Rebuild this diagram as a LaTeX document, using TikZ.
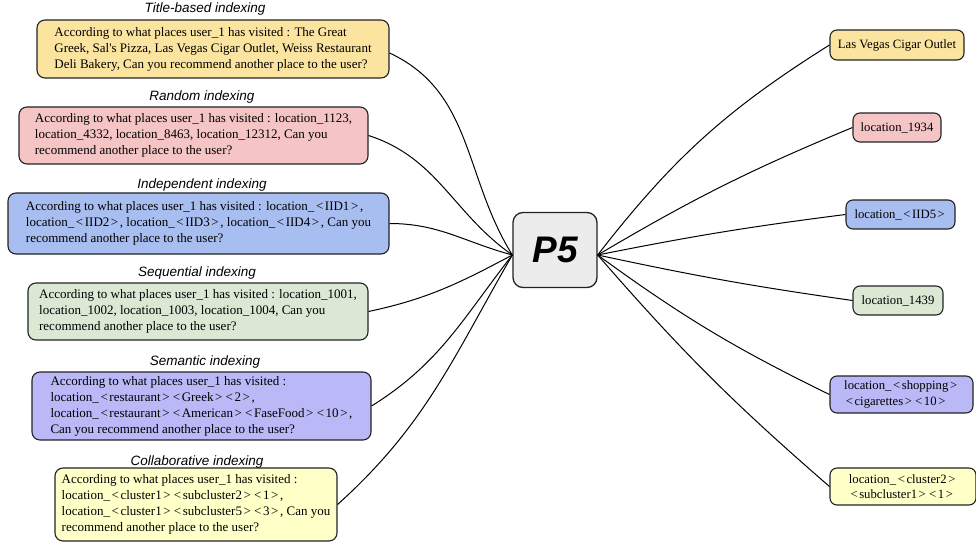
\documentclass[tikz,border=0pt]{standalone}
\usepackage{fontspec}
\setmainfont{Liberation Serif}
\setsansfont{Liberation Sans}
\usetikzlibrary{calc}
\newcommand{\lab}{\kern1.6pt<\kern1.6pt}
\newcommand{\rab}{\kern1.6pt>\kern1.6pt}
\definecolor{cyel}{RGB}{250,228,160}
\definecolor{cpink}{RGB}{245,196,196}
\definecolor{cblue}{RGB}{168,190,240}
\definecolor{cgreen}{RGB}{218,232,212}
\definecolor{cpurp}{RGB}{186,184,246}
\definecolor{clyel}{RGB}{255,255,200}
\definecolor{cgray}{RGB}{236,236,236}
\definecolor{edge}{RGB}{34,34,34}
\tikzset{
  qbox/.style={draw=edge, line width=1.1pt, rounded corners=8pt, align=left,
    font=\fontsize{13}{16}\selectfont, inner sep=0pt},
  abox/.style={draw=edge, line width=1.1pt, rounded corners=7pt, align=left,
    font=\fontsize{12.7}{15.5}\selectfont, inner sep=0pt},
  ttl/.style={font=\sffamily\itshape\fontsize{13.5}{15}\selectfont, inner sep=0pt},
  link/.style={draw=black, line width=1pt},
}
\begin{document}
\begin{tikzpicture}[x=1pt,y=1pt]
\useasboundingbox (0,0) rectangle (976,-545);
% P5
\node[draw=edge, line width=1.3pt, rounded corners=10pt, fill=cgray,
  minimum width=84pt, minimum height=75pt, inner sep=0pt,
  font=\sffamily\bfseries\itshape\fontsize{37}{40}\selectfont] (p5) at (555,-250) {P5};
\coordinate (pl) at ($(p5.west)+(0,-5)$);
\coordinate (pr) at ($(p5.east)+(0,-5)$);
% titles
\node[ttl] (t1) at (205,-9) {Title-based indexing};
\node[ttl] (t2) at (202,-97) {Random indexing};
\node[ttl] (t3) at (202,-185) {Independent indexing};
\node[ttl] (t4) at (197,-273) {Sequential indexing};
\node[ttl] (t5) at (205,-362) {Semantic indexing};
\node[ttl] (t6) at (197,-462) {Collaborative indexing};
% left boxes
\node[qbox, fill=cyel, minimum width=352pt, minimum height=58pt] (q1) at (213,-49)
 {According to what places user\_1 has visited : The Great\\Greek, Sal\textquotesingle s Pizza, Las Vegas Cigar Outlet, Weiss Restaurant\\Deli Bakery, Can you recommend another place to the user?};
\node[qbox, fill=cpink, minimum width=349pt, minimum height=57pt] (q2) at (193.5,-135.5)
 {According to what places user\_1 has visited : location\_1123,\\location\_4332, location\_8463, location\_12312, Can you\\recommend another place to the user?};
\node[qbox, fill=cblue, minimum width=381pt, minimum height=61pt] (q3) at (198.5,-223.5)
 {According to what places user\_1 has visited : location\_\lab IID1\rab,\\location\_\lab IID2\rab, location\_\lab IID3\rab, location\_\lab IID4\rab, Can you\\recommend another place to the user?};
\node[qbox, fill=cgreen, minimum width=340pt, minimum height=57pt] (q4) at (198,-311.5)
 {According to what places user\_1 has visited : location\_1001,\\location\_1002, location\_1003, location\_1004, Can you\\recommend another place to the user?};
\node[qbox, fill=cpurp, minimum width=339pt, minimum height=68pt] (q5) at (201.5,-406)
 {According to what places user\_1 has visited :\\location\_\lab restaurant\rab\lab Greek\rab\lab 2\rab,\\location\_\lab restaurant\rab\lab American\rab\lab FaseFood\rab\lab 10\rab,\\Can you recommend another place to the user?};
\node[qbox, fill=clyel, minimum width=282pt, minimum height=73pt] (q6) at (196,-504.5)
 {According to what places user\_1 has visited :\\location\_\lab cluster1\rab\lab subcluster2\rab\lab 1\rab,\\location\_\lab cluster1\rab\lab subcluster5\rab\lab 3\rab, Can you\\recommend another place to the user?};
% right boxes
\node[abox, fill=cyel, minimum width=134pt, minimum height=30pt] (a1) at (897,-45) {Las Vegas Cigar Outlet};
\node[abox, fill=cpink, minimum width=88pt, minimum height=29pt] (a2) at (897,-127.5) {location\_1934};
\node[abox, fill=cblue, minimum width=109pt, minimum height=29pt] (a3) at (900.5,-214.5) {location\_\lab IID5\rab};
\node[abox, fill=cgreen, minimum width=90pt, minimum height=29pt] (a4) at (898,-300.5) {location\_1439};
\node[abox, fill=cpurp, minimum width=143pt, minimum height=37pt] (a5) at (901.5,-394.5) {location\_\lab shopping\rab\\\lab cigarettes\rab\lab 10\rab};
\node[abox, fill=clyel, minimum width=146pt, minimum height=37pt] (a6) at (903,-486.5) {location\_\lab cluster2\rab\\\lab subcluster1\rab\lab 1\rab};
% left links
\draw[link] ($(q1.east)+(0,-4)$) to[out=-25, in=122] (pl);
\draw[link] (q2.east) to[out=-18, in=145] (pl);
\draw[link] (q3.east) to[out=0, in=165] (pl);
\draw[link] (q4.east) to[out=12, in=208] (pl);
\draw[link] (q5.east) to[out=32, in=232] (pl);
\draw[link] (q6.east) to[out=42, in=240] (pl);
% right links
\draw[link] (pr) to[bend left=10] (a1.west);
\draw[link] (pr) to[bend left=4] (a2.west);
\draw[link] (pr) to[bend left=2] (a3.west);
\draw[link] (pr) to[bend right=2] (a4.west);
\draw[link] (pr) to[bend right=5] (a5.west);
\draw[link] (pr) to[bend right=4] (a6.west);
\end{tikzpicture}
\end{document}
